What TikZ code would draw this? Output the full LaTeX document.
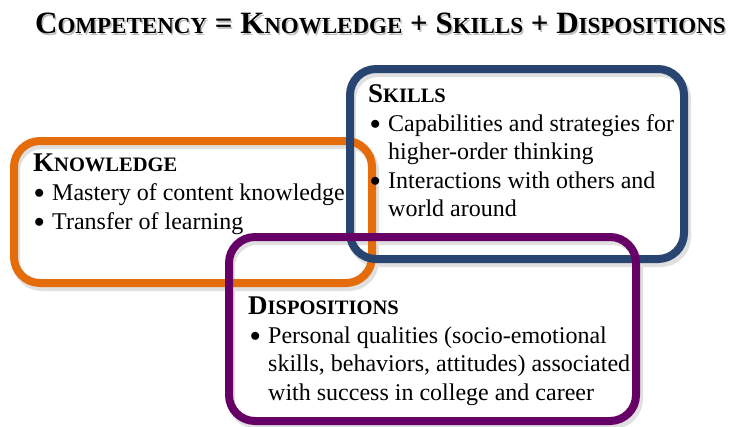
\documentclass[tikz,border=0pt]{standalone}
\usepackage{fontspec}
\setmainfont{Liberation Serif}
\usetikzlibrary{positioning}

\definecolor{knoworange}{HTML}{E46C0A}
\definecolor{skillnavy}{HTML}{284470}
\definecolor{disppurple}{HTML}{660066}

% fake small caps: first letter big, rest small
\newcommand{\titlesc}[2]{{\fontsize{31}{34}\selectfont #1}{\fontsize{23}{26}\selectfont #2}}
\newcommand{\headsc}[2]{{\fontsize{27}{30}\selectfont #1}{\fontsize{20.5}{24}\selectfont #2}}
\newcommand{\bodysize}{\fontsize{24}{28}\selectfont}
\newcommand{\bulletdot}{\raisebox{1.5pt}{\fontsize{21}{24}\selectfont$\bullet$}}

\begin{document}
\begin{tikzpicture}[x=1pt,y=-1pt]
\tikzstyle{every node}+=[inner sep=0pt, anchor=base west]
\tikzstyle{boxline}=[line width=8pt, rounded corners=26pt]
\tikzstyle{boxshadow}=[line width=8pt, rounded corners=26pt, black!12]
\useasboundingbox (0,0) rectangle (730,426);
% title
\node[black!25] (titleshadow) at (36.5,35) {\bfseries\fontsize{31}{34}\selectfont\titlesc{C}{OMPETENCY} = \titlesc{K}{NOWLEDGE} + \titlesc{S}{KILLS} + \titlesc{D}{ISPOSITIONS}};
\node (title) at (35,33) {\bfseries\fontsize{31}{34}\selectfont\titlesc{C}{OMPETENCY} = \titlesc{K}{NOWLEDGE} + \titlesc{S}{KILLS} + \titlesc{D}{ISPOSITIONS}};
% shadows of the boxes
\draw [boxshadow] (16,145) rectangle (375,287);
\draw [boxshadow] (352,73) rectangle (687,263);
\draw [boxshadow] (231,241) rectangle (639,425);
% boxes
\draw [boxline, knoworange] (14,141) rectangle (372,283);
\draw [boxline, skillnavy] (350,69) rectangle (684,259);
\draw [boxline, disppurple] (229,237) rectangle (636,421);
% knowledge
\node (khead) at (33,171) {\bfseries\headsc{K}{NOWLEDGE}};
\node (kb1) at (34,200) {\bulletdot};
\node (k1) at (52,200) {\bodysize Mastery of content knowledge};
\node (kb2) at (34,229) {\bulletdot};
\node (k2) at (52,229) {\bodysize Transfer of learning};
% skills
\node (shead) at (368,102) {\bfseries\headsc{S}{KILLS}};
\node (sb1) at (370,131) {\bulletdot};
\node (s1) at (388,131) {\bodysize Capabilities and strategies for};
\node (s2) at (388,159) {\bodysize higher-order thinking};
\node (sb2) at (370,188) {\bulletdot};
\node (s3) at (388,188) {\bodysize Interactions with others and};
\node (s4) at (388,216) {\bodysize world around};
% dispositions
\node (dhead) at (248,314) {\bfseries\headsc{D}{ISPOSITIONS}};
\node (db1) at (250,343) {\bulletdot};
\node (d1) at (268,343) {\bodysize Personal qualities (socio-emotional};
\node (d2) at (268,371) {\bodysize skills, behaviors, attitudes) associated};
\node (d3) at (268,400) {\bodysize with success in college and career};
\end{tikzpicture}
\end{document}
